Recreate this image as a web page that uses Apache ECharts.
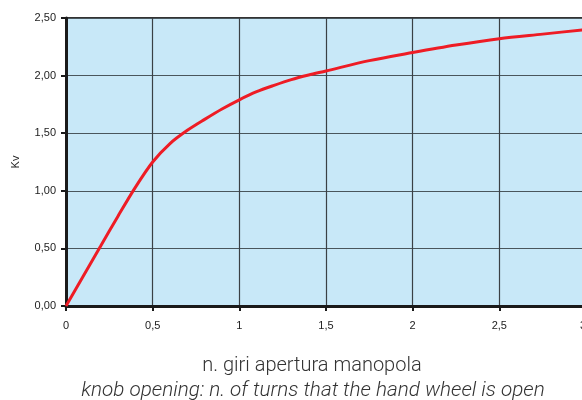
<!DOCTYPE html>
<html>
<head>
<meta charset="utf-8">
<script src="https://cdn.jsdelivr.net/npm/echarts@6/dist/echarts.min.js"></script>
<style>html,body{margin:0;padding:0;background:#fff}#c{width:582px;height:400px}</style>
</head>
<body>
<div id="c"></div>
<script>
const turns = [0, 0.1, 0.2, 0.3, 0.4, 0.5, 0.6, 0.7, 0.8, 0.9, 1.0, 1.1, 1.2, 1.3, 1.4, 1.5, 1.75, 2.0, 2.25, 2.5, 2.75, 3.0];
const kv    = [0, 0.26, 0.52, 0.78, 1.03, 1.25, 1.41, 1.525, 1.62, 1.71, 1.79, 1.86, 1.915, 1.965, 2.005, 2.04, 2.13, 2.20, 2.265, 2.32, 2.36, 2.40];
const xTicks = [0, 0.5, 1, 1.5, 2, 2.5, 3];
const yTicks = [0, 0.5, 1, 1.5, 2, 2.5];
const yName = 'Kv';
const titleIt = 'n. giri apertura manopola';
const titleEn = 'knob opening: n. of turns that the hand wheel is open';

const chart = echarts.init(document.getElementById('c'), null, {renderer: 'canvas'});
const fmt = (v, d) => v.toFixed(d).replace('.', ',');
chart.setOption({
  animation: false,
  grid: {left: 66, top: 18, right: -4, bottom: 94, outerBoundsMode: 'none', containLabel: false,
    show: true, backgroundColor: '#c8e8f8', borderColor: '#333', borderWidth: 2},
  xAxis: {
    type: 'value', min: xTicks[0], max: xTicks[xTicks.length - 1], interval: 0.5,
    axisLine: {lineStyle: {color: '#1a1a1a', width: 3}},
    axisTick: {show: true, length: 5, lineStyle: {color: '#1a1a1a', width: 2}},
    axisLabel: {margin: 14, color: '#222', fontSize: 11, fontFamily: 'Liberation Sans, Arial, sans-serif',
      showMaxLabel: true, showMinLabel: true, hideOverlap: false, alignMaxLabel: 'right',
      formatter: v => (Number.isInteger(v) ? String(v) : fmt(v, 1))},
    splitLine: {show: true, lineStyle: {color: '#3a4045', width: 1.2}}
  },
  yAxis: {
    type: 'value', min: yTicks[0], max: yTicks[yTicks.length - 1], interval: 0.5,
    name: yName, nameLocation: 'middle', nameGap: 45, nameRotate: 90,
    nameTextStyle: {color: '#222', fontSize: 11, fontFamily: 'Liberation Sans, Arial, sans-serif'},
    axisLine: {show: true, lineStyle: {color: '#1a1a1a', width: 3}},
    axisTick: {show: true, length: 5, lineStyle: {color: '#1a1a1a', width: 2}},
    axisLabel: {margin: 10, color: '#222', fontSize: 11, fontFamily: 'Liberation Sans, Arial, sans-serif',
      formatter: v => fmt(v, 2)},
    splitLine: {show: true, lineStyle: {color: '#4a565c', width: 1.2}}
  },
  series: [{
    type: 'line', data: turns.map((t, i) => [t, kv[i]]), smooth: 0.3, symbol: 'none',
    lineStyle: {color: '#ee1c25', width: 3}, clip: true
  }],
  graphic: [
    {type: 'text', x: 312, y: 356, style: {text: titleIt, align: 'center', verticalAlign: 'top', fill: '#333', font: '300 20px Roboto, sans-serif'}},
    {type: 'text', x: 313, y: 380, style: {text: titleEn, align: 'center', verticalAlign: 'top', fill: '#333', font: 'italic 300 20.7px Roboto, sans-serif'}}
  ]
});
</script>
</body>
</html>
